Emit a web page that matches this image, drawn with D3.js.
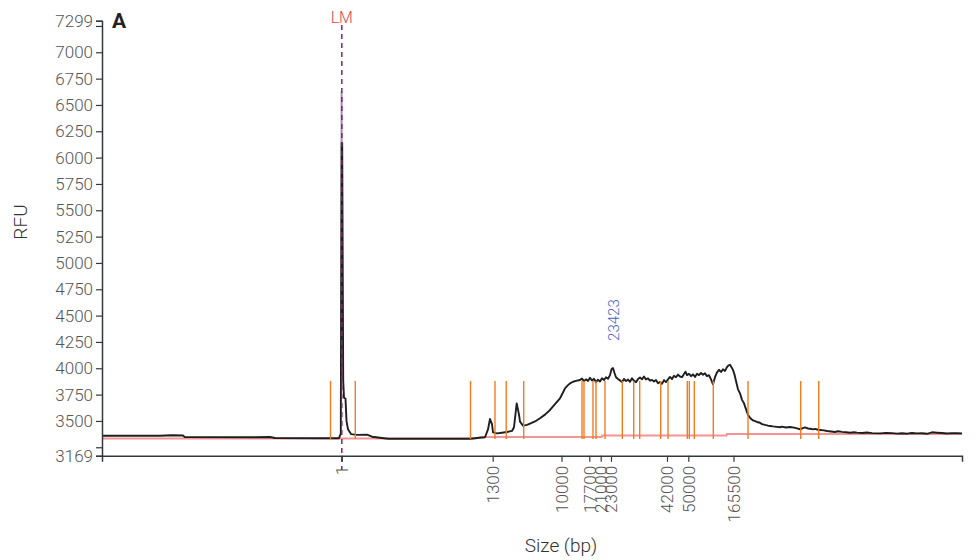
<!DOCTYPE html>
<html>
<head>
<meta charset="utf-8">
<script src="https://cdn.jsdelivr.net/npm/d3@7"></script>
<style>
  html, body { margin: 0; padding: 0; background: #fff; }
  svg { display: block; font-family: Roboto, "Noto Sans", sans-serif; }
</style>
</head>
<body>
<svg id="chart" width="975" height="560"></svg>
<script>
// ---------------- DATA ----------------
// migration time (s) of ladder peaks and their size labels (bp)
const ladderTimes  = [23.98, 39.07, 45.95, 48.73, 49.87, 50.9, 56.5, 58.63, 63.15];
const ladderLabels = ["1", "1300", "10000", "17700", "21000", "23000", "42000", "50000", "165500"];

// y axis ticks (RFU)
const yTickValues = [3169, 3250, 3500, 3750, 4000, 4250, 4500, 4750, 5000, 5250, 5500, 5750, 6000, 6250, 6500, 6750, 7000, 7250, 7299];
const yTickLabels = ["3169", "", "3500", "3750", "4000", "4250", "4500", "4750", "5000", "5250", "5500", "5750", "6000", "6250", "6500", "6750", "7000", "", "7299"];
const yDomain = [3169, 7299];
const xDomain = [0, 86];

// signal trace: time (s) and RFU
const traceTime = [0, 5.8, 7.0, 8.1, 8.3, 15.0, 16.8, 17.3, 22.0, 23.7, 23.88,
  23.95, 24.02, 24.12, 24.2, 24.35, 24.45, 24.6, 24.9, 25.5, 26.5, 27.0, 28.6,
  36.8, 37.5, 38.3, 38.6, 38.8, 39.0, 39.1, 39.5, 40.0, 40.5, 41.0, 41.2, 41.47,
  41.7, 41.8, 42.1, 42.5, 42.8, 43.3, 43.8, 44.3, 44.8, 45.3, 45.8, 46.1, 46.3,
  46.6, 46.8, 47.1, 47.4,
  47.8, 48.0, 48.2, 48.4, 48.6, 48.8, 49.0, 49.2, 49.4, 49.6, 49.8, 50.0, 50.2,
  50.4, 50.6, 50.8, 50.95, 51.1, 51.25, 51.4, 51.6, 51.8, 52.0, 52.2, 52.4, 52.6,
  52.8, 53.0, 53.2, 53.4, 53.6, 53.8, 54.0, 54.2, 54.4, 54.6, 54.8, 55.0, 55.2,
  55.4, 55.6, 55.8, 56.0, 56.2, 56.4, 56.6, 56.8, 57.0, 57.2, 57.4, 57.6, 57.8,
  58.0, 58.2, 58.35, 58.5, 58.7, 58.9, 59.1, 59.3, 59.5, 59.7, 59.9, 60.1, 60.3,
  60.5, 60.7, 60.9, 61.1, 61.3, 61.5, 61.7, 61.9, 62.1, 62.3, 62.5, 62.65, 62.8,
  62.95, 63.1, 63.25, 63.4, 63.6, 63.8, 64.0, 64.2, 64.6,
  64.9, 65.1, 65.3, 65.5, 65.8, 66.0, 66.3, 66.6, 66.8, 67.1, 67.5, 67.8, 68.0,
  68.4, 68.8, 69.2, 69.5, 69.8, 70.1, 70.3, 70.6, 70.8, 71.1, 71.3, 71.6, 71.8,
  72.2, 72.5, 72.9, 73.3, 73.6, 74.0, 74.4, 74.8, 75.2, 75.5, 76.0, 76.5, 77.0,
  77.8, 78.4, 79.0, 79.5, 80.0, 80.5, 81.0, 81.5, 82.0, 82.5, 83.0, 83.5, 84.0,
  84.5, 85.0, 85.5, 86.0];
const traceRFU = [3360, 3360, 3364, 3362, 3346, 3345, 3348, 3338, 3335, 3336, 3380,
  6142, 6142, 3880, 3720, 3712, 3500, 3420, 3375, 3368, 3370, 3350, 3331,
  3331, 3338, 3345, 3420, 3518, 3470, 3392, 3382, 3388, 3395, 3405, 3440, 3667,
  3560, 3493, 3455, 3462, 3474, 3495, 3525, 3560, 3604, 3660, 3715, 3770, 3810,
  3840, 3857, 3872, 3880,
  3889, 3902, 3878, 3895, 3880, 3910, 3884, 3900, 3868, 3892, 3875, 3905, 3888,
  3915, 3900, 3935, 3990, 4002, 3955, 3915, 3898, 3885, 3870, 3898, 3878, 3893,
  3872, 3905, 3880, 3868, 3898, 3912, 3895, 3922, 3893, 3905, 3882, 3890, 3874,
  3888, 3858, 3870, 3852, 3888, 3868, 3895, 3918, 3898, 3928, 3915, 3940, 3922,
  3915, 3945, 3968, 3935, 3948, 3925, 3942, 3918, 3948, 3935, 3955, 3938, 3952,
  3925, 3935, 3895, 3848, 3915, 3962, 3985, 3965, 3990, 3975, 4012, 4028, 4033,
  4010, 3985, 3940, 3880, 3800, 3762, 3700, 3667, 3556,
  3520, 3505, 3498, 3490, 3483, 3470, 3462, 3455, 3452, 3448, 3444, 3440, 3446,
  3438, 3442, 3436, 3430, 3421, 3432, 3438, 3428, 3426, 3420, 3424, 3416, 3414,
  3410, 3405, 3400, 3395, 3402, 3396, 3392, 3388, 3393, 3389, 3386, 3390, 3384,
  3382, 3387, 3384, 3380, 3383, 3379, 3386, 3382, 3383, 3378, 3392, 3388, 3385,
  3381, 3384, 3383, 3382];

// lower marker apex
const lmTime = 23.96;
const lmApexRFU = 6626;
const lmBaseRFU = 6142;

// fitted baseline (red)
const baseTime = [0, 37.3, 38.0, 49.97, 50.0, 62.45, 62.5, 86];
const baseRFU  = [3334, 3334, 3347, 3347, 3362, 3362, 3375, 3375];

// smear / peak region boundaries (orange)
const regionTimes = [22.85, 25.33, 36.85, 39.3, 40.42, 42.17, 48.0, 48.2, 49.1, 49.4,
  50.3, 52.03, 53.17, 53.77, 55.87, 56.6, 58.53, 58.73, 59.23, 61.13, 64.6, 69.87, 71.67];
const regionTopRFU = 3880;
const regionBottomRFU = 3329;

// annotated peak
const peakTime = 51.2;
const peakLabel = "23423";
const peakLabelRFU = 4260;

// ---------------- DRAW ----------------
const svg = d3.select("#chart");
const x = d3.scaleLinear().domain(xDomain).range([102, 962]);
const y = d3.scaleLinear().domain(yDomain).range([455.8, 20.8]);

const axisColor = "#333840";
const textColor = "#555";

// red baseline
const baseData = baseTime.map((t, i) => [t, baseRFU[i]]);
svg.append("path")
  .datum(baseData)
  .attr("fill", "none")
  .attr("stroke", "#f07070")
  .attr("stroke-opacity", 0.75)
  .attr("stroke-width", 2)
  .attr("d", d3.line().x(d => x(d[0])).y(d => y(d[1])));

// trace
const traceData = traceTime.map((t, i) => [t, traceRFU[i]]);
svg.append("path")
  .datum(traceData)
  .attr("fill", "none")
  .attr("stroke", "#1e1e1e")
  .attr("stroke-width", 1.9)
  .attr("stroke-linejoin", "round")
  .attr("d", d3.line().x(d => x(d[0])).y(d => y(d[1])));

// lower marker apex (light)
svg.append("line")
  .attr("x1", x(lmTime)).attr("x2", x(lmTime))
  .attr("y1", y(lmApexRFU)).attr("y2", y(lmBaseRFU))
  .attr("stroke", "#a888b8").attr("stroke-width", 2);

// orange region lines
svg.append("g").selectAll("line")
  .data(regionTimes)
  .join("line")
  .attr("x1", d => x(d)).attr("x2", d => x(d))
  .attr("y1", y(regionTopRFU)).attr("y2", y(regionBottomRFU))
  .attr("stroke", "#f47b20")
  .attr("stroke-width", 1.4);

// LM dashed marker
svg.append("line")
  .attr("x1", x(ladderTimes[0])).attr("x2", x(ladderTimes[0]))
  .attr("y1", 25).attr("y2", 470)
  .attr("stroke", "#8a1f70")
  .attr("stroke-width", 1.5)
  .attr("stroke-dasharray", "5,4");
svg.append("text")
  .attr("x", x(ladderTimes[0])).attr("y", 22.5)
  .attr("text-anchor", "middle")
  .attr("fill", "#e8434b")
  .attr("font-size", 16)
  .attr("font-weight", 300)
  .text("LM");

// peak label
svg.append("text")
  .attr("transform", `translate(${x(peakTime) + 5},${y(peakLabelRFU)}) rotate(-90)`)
  .attr("fill", "#4a5fc1")
  .attr("font-size", 15)
  .attr("font-weight", 300)
  .text(peakLabel);

// y axis
const yAxis = d3.axisLeft(y)
  .tickValues(yTickValues)
  .tickSize(6)
  .tickPadding(3)
  .tickFormat((d, i) => yTickLabels[i]);
const gy = svg.append("g").attr("transform", "translate(102,0)").call(yAxis);
gy.select(".domain").attr("stroke", axisColor).attr("stroke-width", 1.5);
gy.selectAll(".tick line").attr("stroke", axisColor).attr("stroke-width", 1.2);
gy.selectAll(".tick text")
  .attr("fill", textColor)
  .attr("font-size", 17)
  .attr("font-weight", 300)
  .attr("font-family", "Roboto, sans-serif");

// x axis
const xAxis = d3.axisBottom(x)
  .tickValues(ladderTimes)
  .tickSize(6)
  .tickFormat((d, i) => ladderLabels[i]);
const gx = svg.append("g").attr("transform", "translate(0,455.8)").call(xAxis);
gx.select(".domain").attr("stroke", axisColor).attr("stroke-width", 1.5);
gx.selectAll(".tick line").attr("stroke", axisColor).attr("stroke-width", 1.2);
gx.selectAll(".tick text")
  .attr("fill", textColor)
  .attr("font-size", 17)
  .attr("font-weight", 300)
  .attr("font-family", "Roboto, sans-serif")
  .attr("transform", "rotate(-90)")
  .attr("text-anchor", "end")
  .attr("x", -10)
  .attr("y", 0)
  .attr("dy", "0.35em");

// axis titles
svg.append("text")
  .attr("transform", "translate(27,222) rotate(-90)")
  .attr("text-anchor", "middle")
  .attr("fill", "#333")
  .attr("font-size", 19)
  .attr("font-weight", 300)
  .text("RFU");
svg.append("text")
  .attr("x", 561).attr("y", 552)
  .attr("text-anchor", "middle")
  .attr("fill", "#333")
  .attr("font-size", 19)
  .attr("font-weight", 300)
  .text("Size (bp)");

// panel letter
svg.append("text")
  .attr("x", 112).attr("y", 27.5)
  .attr("fill", "#222")
  .attr("font-size", 21)
  .attr("font-weight", "bold")
  .text("A");
</script>
</body>
</html>
